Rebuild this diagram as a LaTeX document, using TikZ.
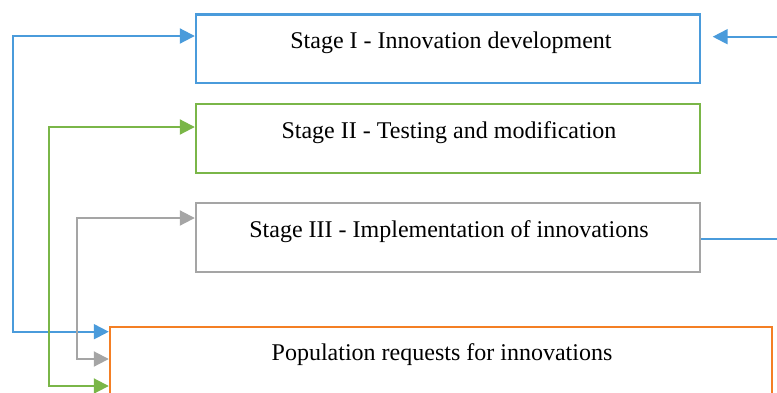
\documentclass[tikz,border=0pt]{standalone}
\usepackage{fontspec}
\setmainfont{Liberation Serif}
\usetikzlibrary{arrows.meta}
\definecolor{cblue}{HTML}{4A9BDB}
\definecolor{cgreen}{HTML}{7AB648}
\definecolor{cgray}{HTML}{A5A5A5}
\definecolor{corange}{HTML}{F47F24}
\tikzset{
  box/.style={draw, line width=2.4pt, rectangle, inner sep=0pt},
  lbl/.style={anchor=base, inner sep=0pt, font=\fontsize{24}{28}\selectfont},
  conn/.style={line width=2pt},
  tip/.style={-{Triangle[length=15pt,width=15pt]}},
  tips/.style={{Triangle[length=15pt,width=15pt]}-{Triangle[length=15pt,width=15pt]}},
}
\begin{document}
\begin{tikzpicture}[x=1pt,y=-1pt]
\useasboundingbox (0,0) rectangle (777,392);
% boxes
\node[box, cblue, minimum width=504pt, minimum height=68.5pt] (b1) at (448,48.75) {};
\node[box, cgreen, minimum width=504pt, minimum height=69pt] (b2) at (448,138.5) {};
\node[box, cgray, minimum width=504pt, minimum height=69pt] (b3) at (448,237.5) {};
\node[box, corange, minimum width=662pt, minimum height=90pt] (b4) at (441,372) {};
% labels
\node[lbl] (t1) at (451,48) {Stage I - Innovation development};
\node[lbl] (t2) at (449,138) {Stage II - Testing and modification};
\node[lbl] (t3) at (449,237.3) {Stage III - Implementation of innovations};
\node[lbl] (t4) at (442,360.7) {Population requests for innovations};
% left connectors
\draw[conn, cblue, tips] (b1.west |- 0,36) -| (13,331.7) -- (b4.west |- 0,331.7);
\draw[conn, cgreen, tips] (b2.west |- 0,127) -| (49,386) -- (b4.west |- 0,386);
\draw[conn, cgray, tips] (b3.west |- 0,218) -| (77,359) -- (b4.west |- 0,359);
% right connector
\coordinate (r1) at (712.7,36.7);
\draw[conn, cblue, tip] (b3.east |- 0,239) -- (795,239) -- (795,36.7) -- (r1);
\end{tikzpicture}
\end{document}
